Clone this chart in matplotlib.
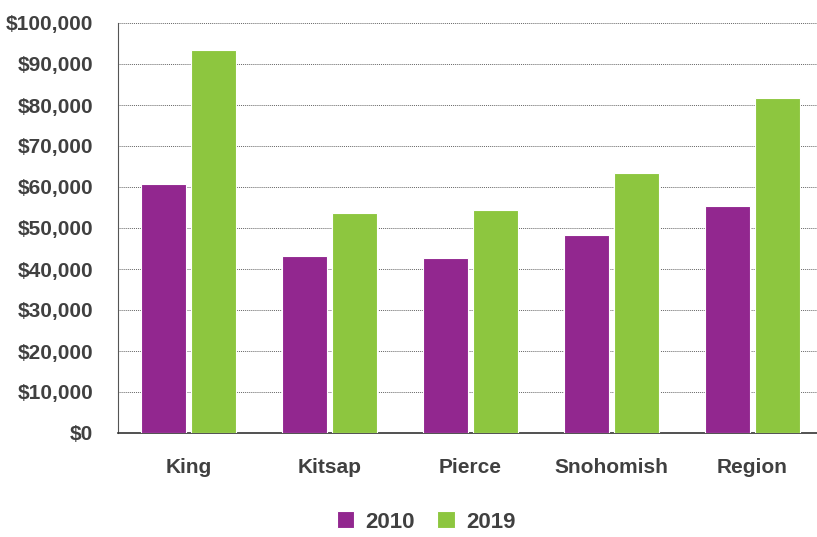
import numpy as np
import matplotlib.pyplot as plt
from matplotlib.ticker import FuncFormatter

counties = ['King', 'Kitsap', 'Pierce', 'Snohomish', 'Region']
inc_2010 = [60700, 43200, 42700, 48200, 55300]
inc_2019 = [93300, 53700, 54400, 63400, 81600]

purple = '#92278F'
green = '#8DC63F'
txt = '#404040'

plt.rcParams['font.family'] = ['Liberation Sans', 'DejaVu Sans']

fig = plt.figure(figsize=(8.17, 5.37), dpi=100)
ax = fig.add_axes([118/817, 1 - 433/537, 705/817, 410/537])

x = np.arange(len(counties))
w = 0.32
ax.bar(x - 0.178, inc_2010, w, color=purple, edgecolor='white', linewidth=0.8, label='2010', zorder=3)
ax.bar(x + 0.178, inc_2019, w, color=green, edgecolor='white', linewidth=0.8, label='2019', zorder=3)

ax.set_xlim(-0.5, 4.5)
ax.set_ylim(0, 100000)
ax.set_yticks(np.arange(0, 100001, 10000))
ax.yaxis.set_major_formatter(FuncFormatter(lambda v, p: '${:,.0f}'.format(v)))
ax.set_xticks(x)
ax.set_xticklabels(counties)
ax.tick_params(axis='both', length=0, labelsize=15, colors=txt)
ax.tick_params(axis='x', pad=18)
ax.tick_params(axis='y', pad=18)
for lab in ax.get_xticklabels() + ax.get_yticklabels():
    lab.set_fontweight('bold')

ax.grid(axis='y', color='#666666', linestyle=(0, (1, 1)), linewidth=0.7, zorder=0)
for s in ['top', 'right']:
    ax.spines[s].set_visible(False)
ax.spines['left'].set_color('#555555')
ax.spines['bottom'].set_color('#333333')
ax.spines['bottom'].set_linewidth(1.2)

leg = fig.legend(loc='center', bbox_to_anchor=(426/817, 1 - 522/537), ncol=2, frameon=False,
                 prop={'size': 16, 'weight': 'bold'}, handlelength=0.8, handleheight=0.8,
                 handletextpad=0.5, columnspacing=1.0)
for t in leg.get_texts():
    t.set_color(txt)

plt.savefig('out.png', dpi=100)
